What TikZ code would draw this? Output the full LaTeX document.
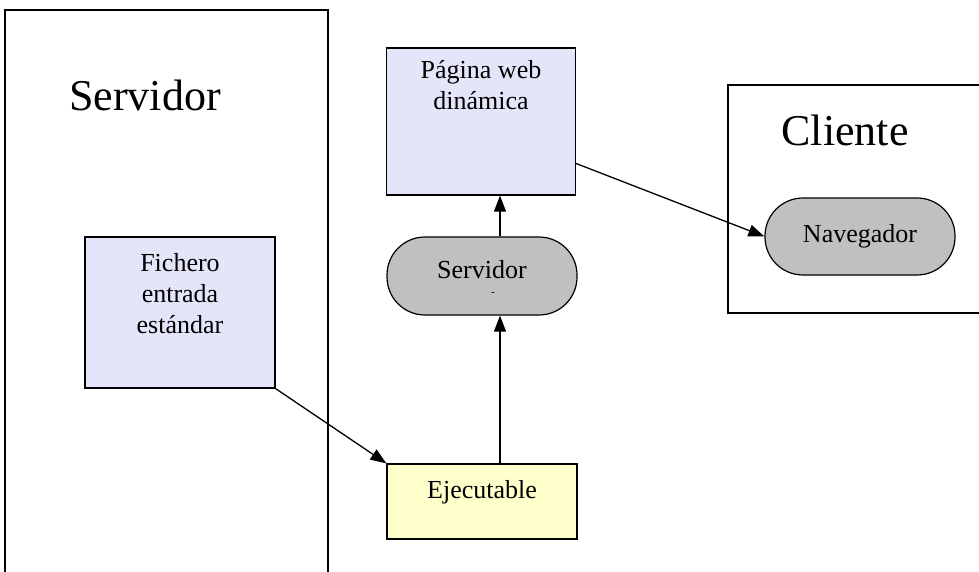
\documentclass[tikz,border=0pt]{standalone}
\usepackage{fontspec}
\setmainfont{Liberation Serif}
\usetikzlibrary{arrows.meta}
\definecolor{lila}{RGB}{229,229,250}
\definecolor{amarillo}{RGB}{255,255,204}
\definecolor{gris}{RGB}{192,192,192}
\tikzset{
  caja/.style={draw,line width=1.2pt,minimum width=189pt,inner sep=0pt},
  pastilla/.style={caja,fill=gris,rounded corners=38pt},
  flecha/.style={line width=1.3pt,-{Triangle[length=16pt,width=12pt]}},
  texto/.style={font=\fontsize{26}{31}\selectfont,align=center,inner sep=0pt},
  titulo/.style={font=\fontsize{44}{50}\selectfont}
}
\begin{document}
\begin{tikzpicture}[x=1pt,y=-1pt]
  \useasboundingbox (0,0) rectangle (979,572);
  \clip (0,0) rectangle (979,572);
  % marcos
  \draw[line width=1.3pt] (5,10) rectangle (328,600);
  \draw[line width=1.3pt] (728,85) rectangle (1000,313);
  \node[titulo] (tserv) at (145,95) {Servidor};
  \node[titulo] (tcli) at (845,130) {Cliente};
  % cajas
  \node[caja,fill=lila,minimum height=147pt] (pag) at (481,121.5) {};
  \node[texto,anchor=north] (tpag) at ([yshift=-13]pag.north) {Página web\\dinámica};
  \node[pastilla,minimum height=78pt,minimum width=190pt] (srv) at (482,276) {};
  \node[texto] (tsrv) at ([yshift=6]srv.center) {Servidor};
  \node[font=\fontsize{11}{11}\selectfont,inner sep=0pt] (guion) at (493,294) {-};
  \node[caja,fill=lila,minimum height=151pt,minimum width=190pt] (fich) at (180,312.5) {};
  \node[texto,anchor=north] (tfich) at ([yshift=-17]fich.north) {Fichero\\entrada\\estándar};
  \node[caja,fill=amarillo,minimum height=75pt,minimum width=190pt] (ejec) at (482,501.5) {};
  \node[texto] (tejec) at ([yshift=9]ejec.center) {Ejecutable};
  \node[pastilla,minimum height=77pt,minimum width=190pt] (nav) at (860,236.5) {};
  \node[texto] (tnav) at (nav.center) {Navegador};
  % flechas
  \coordinate (salida) at ([yshift=-42]pag.east);
  \draw[flecha] (fich.south east) -- (ejec.north west);
  \draw[flecha] ([xshift=18]ejec.north) -- ([xshift=18]srv.south);
  \draw[flecha] ([xshift=18]srv.north) -- ([xshift=19]pag.south);
  \draw[flecha] (salida) -- (nav.west);
\end{tikzpicture}
\end{document}
